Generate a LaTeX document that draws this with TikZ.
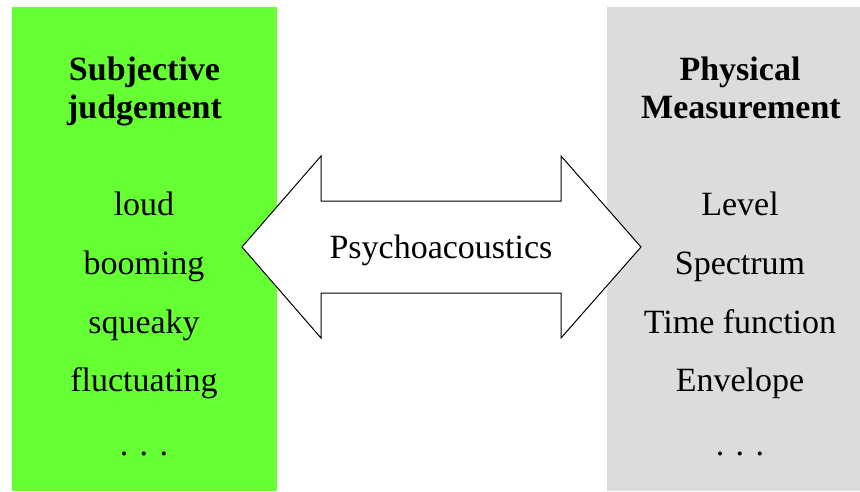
\documentclass[tikz,border=0pt]{standalone}
\usepackage{fontspec}
\setmainfont{Liberation Serif}
\definecolor{judgegreen}{HTML}{66FF33}
\definecolor{measuregrey}{HTML}{DCDCDC}
\begin{document}
\begin{tikzpicture}[x=1pt,y=-1pt,
  panel/.style={draw=none,inner sep=0pt},
  heading/.style={anchor=base,inner sep=0pt,font=\fontsize{34}{38}\selectfont\bfseries},
  item/.style={anchor=base,inner sep=0pt,font=\fontsize{34}{38}\selectfont},
  bigarrow/.style={draw=black,line width=1pt,fill=white,line join=miter}]
  \useasboundingbox (0,0) rectangle (860,491);
  % two columns
  \fill[judgegreen] (12,7) rectangle (277,491);
  \fill[measuregrey] (607,7) rectangle (860,491);
  % subjective side
  \node[heading] (sj1) at (144.5,80) {Subjective};
  \node[heading] (sj2) at (144.5,118) {judgement};
  \node[item] (l1) at (144,215) {loud};
  \node[item] (l2) at (144,274) {booming};
  \node[item] (l3) at (144,333) {squeaky};
  \node[item] (l4) at (144,391) {fluctuating};
  \node[item] (l5) at (144,455) {.\,\,.\,\,.};
  % physical side
  \node[heading] (pm1) at (740,80) {Physical};
  \node[heading] (pm2) at (741,118) {Measurement};
  \node[item] (r1) at (740,215) {Level};
  \node[item] (r2) at (740,274) {Spectrum};
  \node[item] (r3) at (740,333) {Time function};
  \node[item] (r4) at (740,391) {Envelope};
  \node[item] (r5) at (740,455) {.\,\,.\,\,.};
  % double-headed arrow between the columns
  \draw[bigarrow] (242,247) -- (321,156) -- (321,201) -- (561,201) -- (561,156)
    -- (641,247) -- (561,338) -- (561,293) -- (321,293) -- (321,338) -- cycle;
  \node[item] (psy) at (441,258) {Psychoacoustics};
\end{tikzpicture}
\end{document}
